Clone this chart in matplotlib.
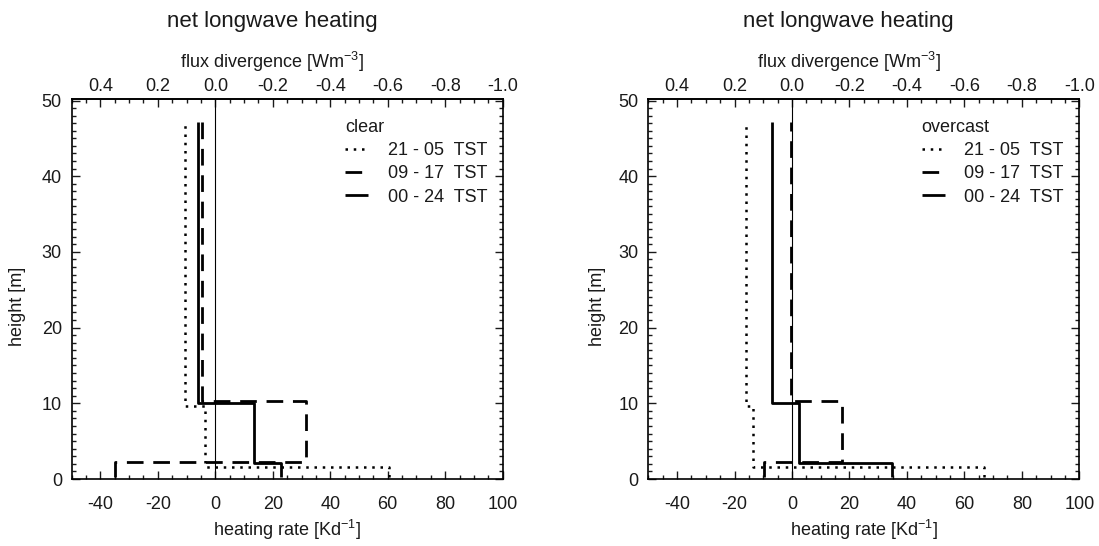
import matplotlib
matplotlib.use("Agg")
import matplotlib.pyplot as plt
from matplotlib.ticker import MultipleLocator, FormatStrFormatter

plt.rcParams['font.family'] = ['Liberation Sans', 'DejaVu Sans']
plt.rcParams['mathtext.fontset'] = 'custom'
plt.rcParams['mathtext.rm'] = 'Liberation Sans'
plt.rcParams['axes.unicode_minus'] = False

# layer boundaries [m] for each period (steps drawn slightly offset in the original)
heights_night = [0.3, 1.6, 9.7, 47.2]
heights_day = [0.3, 2.3, 10.25, 47.2]
heights_all = [0.3, 2.05, 10.0, 47.2]

# heating rate per layer [K/d], bottom layer first
clear_night = [60.3, -3.5, -10.4]
clear_day = [-34.8, 31.4, -4.6]
clear_all = [23.0, 13.3, -6.2]

overcast_night = [66.8, -13.4, -16.1]
overcast_day = [-9.9, 17.4, -0.4]
overcast_all = [34.8, 2.3, -7.1]

labels = ["21 - 05  TST", "09 - 17  TST", "00 - 24  TST"]
flux_ticks = [0.4, 0.2, 0.0, -0.2, -0.4, -0.6, -0.8, -1.0]


def step_profile(rates, heights):
    xs, ys = [], []
    for i, r in enumerate(rates):
        xs += [r, r]
        ys += [heights[i], heights[i + 1]]
    return xs, ys


styles = [dict(ls=(0, (1, 2.3)), lw=1.8),
          dict(ls=(0, (6, 3.5)), lw=2.0),
          dict(ls='-', lw=2.0)]

fig = plt.figure(figsize=(10.99, 5.46), dpi=100)
panels = [
    ([0.0652, 0.1227, 0.3922, 0.696], "clear",
     [clear_night, clear_day, clear_all], -0.1246),
    ([0.5899, 0.1227, 0.3922, 0.696], "overcast",
     [overcast_night, overcast_day, overcast_all], -0.119),
]
heights = [heights_night, heights_day, heights_all]
tc = '#1a1a1a'

for rect, name, series, ylab_x in panels:
    ax = fig.add_axes(rect)
    for rates, h, st, lab in zip(series, heights, styles, labels):
        xs, ys = step_profile(rates, h)
        ax.plot(xs, ys, color='k', label=lab, solid_capstyle='butt', **st)
    ax.axvline(0, color='k', lw=0.8)
    ax.set_xlim(-50, 100)
    ax.set_ylim(0, 50.2)
    ax.xaxis.set_major_locator(MultipleLocator(20))
    ax.xaxis.set_minor_locator(MultipleLocator(5))
    ax.yaxis.set_major_locator(MultipleLocator(10))
    ax.yaxis.set_minor_locator(MultipleLocator(1))
    ax.tick_params(which='both', direction='in', top=False, right=True,
                   labelsize=13, colors=tc, width=1.0)
    ax.tick_params(which='major', length=6)
    ax.tick_params(which='minor', length=3)
    ax.tick_params(axis='x', pad=12)
    ax.tick_params(axis='y', pad=7)
    for s in ax.spines.values():
        s.set_linewidth(1.2)

    sec = ax.secondary_xaxis('top', functions=(lambda x: -x / 100.0,
                                               lambda f: -f * 100.0))
    sec.set_xticks(flux_ticks)
    sec.xaxis.set_major_formatter(FormatStrFormatter('%.1f'))
    sec.xaxis.set_minor_locator(MultipleLocator(0.05))
    sec.tick_params(which='both', direction='in', labelsize=13, colors=tc,
                    width=1.0, pad=3)
    sec.tick_params(which='major', length=6)
    sec.tick_params(which='minor', length=3)
    sec.spines['top'].set_linewidth(1.2)
    ax.text(0.465, 1.097, r"flux divergence [Wm$^{\mathrm{-3}}$]",
            transform=ax.transAxes, ha='center', va='center',
            fontsize=13, color=tc)

    ax.set_xlabel(r"heating rate [Kd$^{\mathrm{-1}}$]", fontsize=13, color=tc)
    ax.xaxis.set_label_coords(0.5, -0.134)
    ax.xaxis.label.set_va('center')
    ax.set_ylabel("height [m]", fontsize=13, color=tc)
    ax.yaxis.set_label_coords(ylab_x, 0.453)
    ax.yaxis.label.set_va('center')

    ax.text(0.465, 1.205, "net longwave heating", transform=ax.transAxes,
            ha='center', va='center', fontsize=16, color=tc)

    leg = ax.legend(title=name, loc='upper left', bbox_to_anchor=(0.634, 0.947),
                    frameon=False, fontsize=13, title_fontsize=13,
                    handlelength=1.27, handletextpad=1.1, labelspacing=0.34,
                    borderpad=0, borderaxespad=0, alignment='left')
    for t in leg.get_texts():
        t.set_color(tc)
    leg.get_title().set_color(tc)

fig.savefig("out.png", dpi=100)
